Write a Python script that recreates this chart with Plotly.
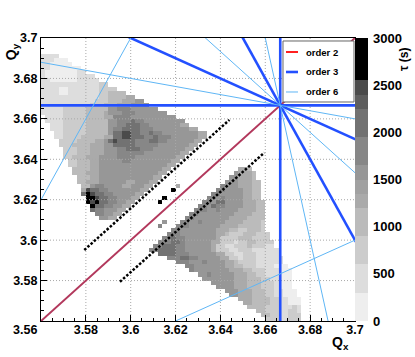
import plotly.graph_objects as go

# ---------------- data ----------------
QX_RANGE = [3.56, 3.70]
QY_RANGE = [3.56, 3.70]
BIN = 0.002
NX = 70
NY = 70

X_TICKS = [3.56, 3.58, 3.60, 3.62, 3.64, 3.66, 3.68, 3.70]
X_TICK_TEXT = ["", "3.58", "3.6", "3.62", "3.64", "3.66", "3.68", "3.7"]
Y_TICKS = [3.56, 3.58, 3.60, 3.62, 3.64, 3.66, 3.68, 3.70]
Y_TICK_TEXT = ["", "3.58", "3.6", "3.62", "3.64", "3.66", "3.68", "3.7"]
CORNER_LABEL = "3.56"
CB_TICKS = [0, 500, 1000, 1500, 2000, 2500, 3000]

# grey level code -> tau (s)
LEVEL_VALUES = {"1": 150, "2": 450, "3": 750, "4": 1050, "5": 1275,
                "6": 1575, "7": 1800, "8": 2100, "9": 2475, "X": 2800}

# (row j, first column i, runs "level:count")
UPPER_ROWS = [
    (65, 0, "2:4"),
    (64, 0, "2:3 1:3"),
    (63, 0, "2:2 1:5"),
    (62, 0, "2:2 1:7"),
    (61, 0, "2:1 1:7 2:2"),
    (60, 0, "2:1 1:7 2:4"),
    (59, 0, "2:2 1:6 2:5"),
    (58, 0, "2:13 3:2"),
    (57, 0, "2:4 1:2 2:7 3:4"),
    (56, 0, "2:4 1:2 2:7 3:2 4:4"),
    (55, 0, "2:13 3:2 4:4 5:2"),
    (54, 0, "2:12 3:3 4:3 5:3 6:2"),
    (53, 0, "2:11 3:3 4:3 5:3 6:4"),
    (52, 0, "2:5 3:5 4:5 6:2 7:3 6:6"),
    (51, 0, "2:5 3:5 4:4 5:1 6:3 7:3 6:7"),
    (50, 1, "2:4 3:5 4:4 5:2 7:4 6:10"),
    (49, 1, "2:4 3:5 4:5 6:2 7:3 8:1 7:2 6:9"),
    (48, 2, "2:3 3:5 4:5 6:2 7:2 8:3 7:2 6:7 5:2"),
    (47, 2, "2:3 3:5 4:5 6:1 7:2 8:4 7:3 6:8 5:2"),
    (46, 3, "2:2 3:5 4:5 6:1 8:2 9:2 8:2 7:2 8:1 7:2 6:8 5:2"),
    (45, 3, "2:2 3:4 4:5 5:2 8:2 9:2 8:3 7:2 8:1 7:3 6:6 5:2"),
    (44, 4, "3:4 4:4 5:2 6:1 8:1 9:1 8:4 7:3 8:2 7:2 6:6 5:2"),
    (43, 4, "3:3 4:4 5:3 6:2 8:5 7:3 7:2 6:7 5:2"),
    (42, 5, "3:3 4:3 5:3 6:3 7:2 8:3 7:3 6:7 5:2"),
    (41, 5, "3:3 4:3 5:3 6:3 7:6 6:8 5:2"),
    (40, 5, "3:2 4:3 5:3 6:4 7:4 6:9 5:2"),
    (39, 6, "3:2 4:3 5:2 6:5 7:2 6:9 5:2"),
    (38, 6, "3:2 4:3 5:2 6:15 5:2"),
    (37, 7, "4:4 5:2 6:14 5:2"),
    (36, 7, "4:3 5:3 6:13 5:2"),
    (35, 8, "4:3 5:2 6:12 5:2"),
    (34, 8, "4:2 5:3 6:6 5:2 6:3 5:2"),
    (33, 9, "4:2 6:1 7:2 6:4 5:2 6:3 5:2"),
    (32, 9, "5:1 9:1 8:2 7:2 6:7 5:2"),
    (31, 9, "8:1 X:1 9:1 8:2 7:2 6:5 5:2"),
    (30, 10, "X:2 9:1 8:2 7:2 6:3 5:2"),
    (29, 10, "X:1 9:1 X:1 8:2 7:2 6:2 5:2"),
    (28, 11, "X:1 8:2 7:2 6:2 5:2"),
    (27, 11, "8:1 7:2 6:3 5:2"),
    (26, 12, "7:2 6:2 5:2"),
    (25, 13, "6:2 5:2"),
]

LOWER_ROWS = [
    (37, 44, "5:2 4:1"),
    (36, 43, "6:1 5:3 4:1"),
    (35, 42, "6:2 5:3 4:1"),
    (34, 41, "6:3 5:3 4:2"),
    (33, 40, "7:1 6:3 5:3 4:2"),
    (32, 39, "7:2 6:4 5:2 4:2"),
    (31, 38, "7:2 6:5 5:2 4:2"),
    (30, 37, "7:2 6:1 7:1 6:4 5:2 4:2"),
    (29, 36, "7:2 6:1 8:2 6:4 5:3 4:2"),
    (28, 35, "7:2 6:1 8:1 7:2 6:4 5:3 4:2"),
    (27, 34, "7:3 6:2 7:1 6:4 5:4 4:2"),
    (26, 33, "7:2 6:8 5:4 4:3"),
    (25, 32, "7:2 6:8 5:4 4:4"),
    (24, 31, "7:2 6:2 7:1 6:5 5:4 4:4 3:1"),
    (23, 30, "7:3 6:7 5:4 4:5 3:1"),
    (22, 29, "7:2 6:8 5:3 4:2 3:2 4:3 3:1"),
    (21, 28, "7:3 6:8 5:2 4:1 3:3 4:3 3:3"),
    (20, 27, "7:2 8:1 7:2 6:7 5:1 3:4 4:3 3:4"),
    (19, 26, "7:3 8:2 7:1 6:6 5:2 3:3 2:1 3:2 4:2 3:4"),
    (18, 25, "7:2 8:3 7:2 6:6 5:1 3:2 2:2 3:3 4:1 3:3 2:2"),
    (17, 24, "7:2 8:4 7:2 6:6 5:1 3:3 2:2 3:3 2:6"),
    (16, 26, "8:4 7:3 6:6 5:2 3:2 2:2 3:3 2:5"),
    (15, 28, "7:3 8:2 7:2 6:5 5:2 3:2 2:1 3:3 2:6"),
    (14, 30, "7:3 6:3 7:1 6:4 5:2 4:1 3:4 2:6"),
    (13, 32, "7:2 6:7 5:2 4:2 3:3 2:4 1:3"),
    (12, 33, "7:1 6:8 5:3 4:2 3:3 2:3 1:3"),
    (11, 35, "6:2 7:1 6:5 5:3 4:2 3:2 2:3 1:3"),
    (10, 36, "6:7 5:3 4:3 3:2 2:2 1:3"),
    (9, 38, "6:5 5:3 4:3 3:3 2:1 1:3"),
    (8, 39, "6:4 5:3 4:3 3:3 2:1 1:3"),
    (7, 41, "6:3 5:3 4:3 3:2 2:2 1:3"),
    (6, 42, "6:2 5:3 4:3 3:2 2:2 1:3"),
    (5, 44, "5:3 4:4 3:2 2:2 1:3"),
    (4, 45, "5:2 4:4 3:2 2:2 1:3"),
    (3, 46, "4:4 3:3 2:3 3:1 2:1"),
    (2, 48, "4:2 3:3 2:2 3:2 2:1"),
    (1, 49, "4:2 3:2 2:2 3:3"),
    (0, 50, "3:3 2:2 3:3"),
]

ISOLATED_CELLS = [(26, 29, "X"), (27, 30, "X"), (29, 32, "X"), (30, 33, "5"),
                  (26, 23, "7"), (27, 24, "6")]

# resonance lines a*Qx + b*Qy = n
ORDER2 = [(1, -1, 0)]
ORDER3 = [(3, 0, 11), (0, 3, 11), (2, 1, 11), (1, 2, 11)]
ORDER6 = [(3, -3, 0), (5, 1, 22), (1, 5, 22), (3, 3, 22), (4, -2, 7), (2, -4, -7)]

LEGEND_NAMES = ["order 2", "order 3", "order 6"]

# dotted black lines (end points)
DOT1_X = [3.5793, 3.6440]
DOT1_Y = [3.5951, 3.6595]
DOT2_X = [3.5952, 3.6596]
DOT2_Y = [3.5794, 3.6433]

# ---------------- build heatmap ----------------
z = [[None] * NX for _ in range(NY)]
for rows in (UPPER_ROWS, LOWER_ROWS):
    for j, i0, runs in rows:
        i = i0
        for run in runs.split():
            c, n = run.split(":")
            for _ in range(int(n)):
                z[j][i] = LEVEL_VALUES[c]
                i += 1
for i, j, c in ISOLATED_CELLS:
    z[j][i] = LEVEL_VALUES[c]

xc = [QX_RANGE[0] + BIN * (k + 0.5) for k in range(NX)]
yc = [QY_RANGE[0] + BIN * (k + 0.5) for k in range(NY)]

bands = [(0.00, 0.10, "#eeeeee"), (0.10, 0.20, "#dddddd"), (0.20, 0.30, "#cccccc"),
         (0.30, 0.40, "#bbbbbb"), (0.40, 0.45, "#aaaaaa"), (0.45, 0.50, "#a1a1a1"),
         (0.50, 0.55, "#979797"), (0.55, 0.65, "#878787"), (0.65, 0.75, "#727272"),
         (0.75, 0.80, "#5e5e5e"), (0.80, 0.85, "#4b4b4b"), (0.85, 1.00, "#000000")]
colorscale = []
for a, b, col in bands:
    colorscale.append([a, col])
    colorscale.append([b, col])

FONT = "Liberation Sans, Arial, sans-serif"
C_ORDER2 = "#b3385c"
C_LEG2 = "#ff2020"
C_ORDER3 = "#2350ff"
C_ORDER6 = "#5fb6f5"

fig = go.Figure()
fig.add_trace(go.Heatmap(
    x=xc, y=yc, z=z, zmin=0, zmax=3000, colorscale=colorscale,
    hoverongaps=False, showscale=True,
    colorbar=dict(x=1.0, xanchor="left", xpad=0, y=0, yanchor="bottom", ypad=0,
                  len=1.0, lenmode="fraction", thickness=13, outlinewidth=0,
                  tickvals=CB_TICKS, ticktext=[str(v) for v in CB_TICKS],
                  ticks="outside", ticklen=3, tickcolor="rgba(0,0,0,0)", tickwidth=1,
                  tickfont=dict(family=FONT, size=13, color="black", weight="bold")),
))

# grid (dotted, above the heatmap)
gx, gy = [], []
for t in X_TICKS[1:-1]:
    gx += [t, t, None]
    gy += [QY_RANGE[0], QY_RANGE[1], None]
for t in Y_TICKS[1:-1]:
    gx += [QX_RANGE[0], QX_RANGE[1], None]
    gy += [t, t, None]
fig.add_trace(go.Scatter(x=gx, y=gy, mode="lines", showlegend=False, hoverinfo="skip",
                         line=dict(color="#a8a8a8", width=1, dash="1px,2px")))


def res_line(a, b, n):
    if b == 0:
        xv = n / a
        return [xv, xv], [QY_RANGE[0] - 0.5, QY_RANGE[1] + 0.5]
    xs = [QX_RANGE[0] - 0.5, QX_RANGE[1] + 0.5]
    return xs, [(n - a * x) / b for x in xs]


def add_group(lst, color, width):
    for a, b, n in lst:
        xs, ys = res_line(a, b, n)
        fig.add_trace(go.Scatter(x=xs, y=ys, mode="lines", showlegend=False,
                                 hoverinfo="skip", line=dict(color=color, width=width)))


# dotted scan lines
for dx, dy in ((DOT1_X, DOT1_Y), (DOT2_X, DOT2_Y)):
    fig.add_trace(go.Scatter(x=dx, y=dy, mode="lines", showlegend=False, hoverinfo="skip",
                             line=dict(color="black", width=2.5, dash="2.5px,1.8px")))

add_group(ORDER6[:1], C_ORDER6, 1)
add_group(ORDER2, C_ORDER2, 2)
add_group(ORDER3, C_ORDER3, 2.6)
add_group(ORDER6[1:], C_ORDER6, 1)

# legend box (drawn manually, ROOT style)
shapes = [dict(type="rect", xref="paper", yref="paper", x0=0.7707, x1=0.9968,
               y0=0.7739, y1=0.9894, fillcolor="white", line=dict(color="#666666", width=1),
               layer="above")]
annotations = []
leg_y = [0.9505, 0.8799, 0.8092]
leg_col = [C_LEG2, C_ORDER3, C_ORDER6]
leg_w = [2, 2.6, 1]
for name, yy, col, w in zip(LEGEND_NAMES, leg_y, leg_col, leg_w):
    shapes.append(dict(type="line", xref="paper", yref="paper", x0=0.7803, x1=0.8185,
                       y0=yy, y1=yy, line=dict(color=col, width=w), layer="above"))
    annotations.append(dict(text="<b>%s</b>" % name, xref="paper", yref="paper",
                            x=0.8376, y=yy, xanchor="left", yanchor="middle", showarrow=False,
                            font=dict(family=FONT, size=9.5, color="black")))

annotations += [
    dict(text="<b>%s</b>" % CORNER_LABEL, xref="paper", yref="paper", x=-0.051, y=-0.032,
         xanchor="center", yanchor="middle",
         showarrow=False, font=dict(family=FONT, size=12.5, color="black")),
    dict(text="<b>Q<sub>y</sub></b>", xref="paper", yref="paper", x=-0.092, y=0.95,
         xanchor="center", yanchor="middle",
         showarrow=False, textangle=-90, font=dict(family=FONT, size=14, color="black")),
    dict(text="<b>Q<sub>x</sub></b>", xref="paper", yref="paper", x=0.955, y=-0.078,
         xanchor="center", yanchor="middle",
         showarrow=False, font=dict(family=FONT, size=14, color="black")),
    dict(text="<b>τ (s)</b>", xref="paper", yref="paper", x=1.156, y=0.926,
         xanchor="center", yanchor="middle",
         showarrow=False, textangle=-90, font=dict(family=FONT, size=12, color="black")),
]

fig.update_layout(
    width=415, height=357,
    margin=dict(l=41, r=60, t=38, b=36, autoexpand=False),
    paper_bgcolor="white", plot_bgcolor="white",
    font=dict(family=FONT, color="black"),
    showlegend=False,
    xaxis=dict(range=QX_RANGE, tickvals=X_TICKS, ticktext=X_TICK_TEXT,
               ticks="inside", ticklen=6, tickcolor="black", ticklabelstandoff=-3,
               minor=dict(dtick=0.005, tick0=3.56, ticks="inside", ticklen=3, tickcolor="black"),
               showline=True, linecolor="black", linewidth=1, mirror=True,
               showgrid=False, zeroline=False,
               tickfont=dict(family=FONT, size=12.5, color="black", weight="bold")),
    yaxis=dict(range=QY_RANGE, tickvals=Y_TICKS, ticktext=Y_TICK_TEXT,
               ticks="inside", ticklen=6, tickcolor="black",
               minor=dict(dtick=0.005, tick0=3.56, ticks="inside", ticklen=3, tickcolor="black"),
               showline=True, linecolor="black", linewidth=1, mirror=True,
               showgrid=False, zeroline=False,
               tickfont=dict(family=FONT, size=12.5, color="black", weight="bold")),
    shapes=shapes,
    annotations=annotations,
)

fig.write_html("out.html", config={"displayModeBar": False},
               post_script="document.body.style.margin='0px';")
